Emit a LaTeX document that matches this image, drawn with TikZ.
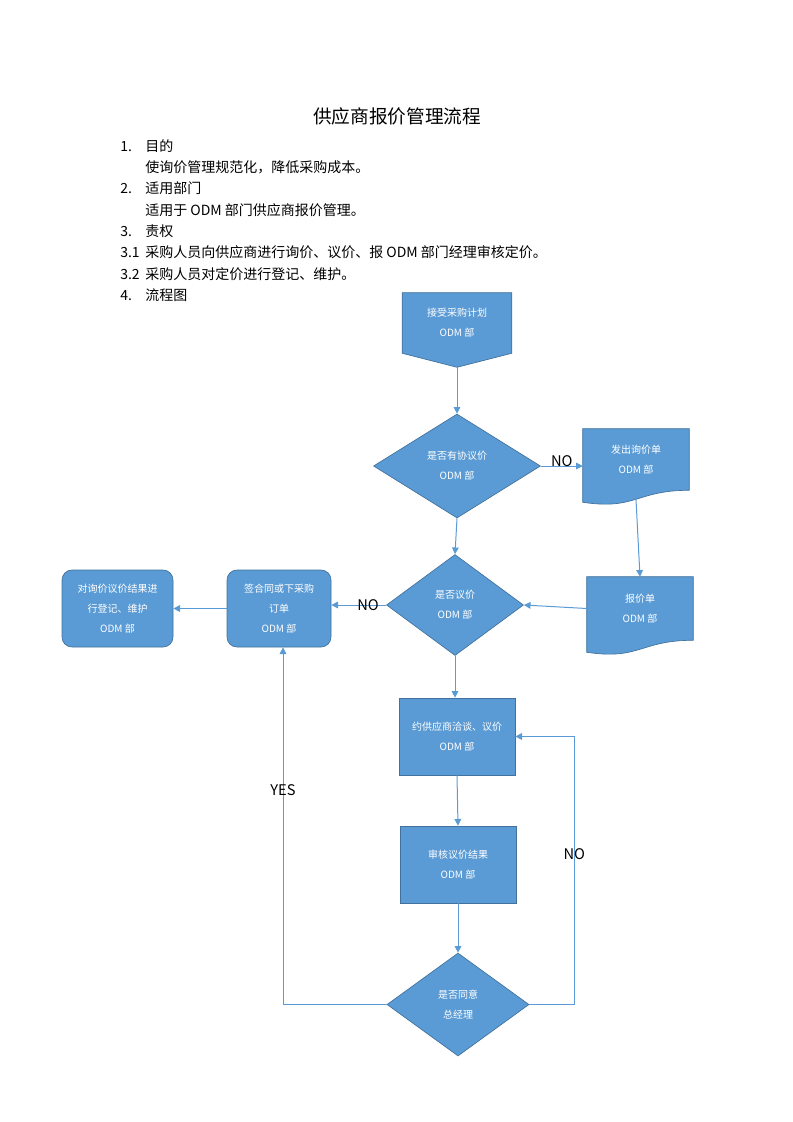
\documentclass[tikz,border=0pt]{standalone}
\usepackage{fontspec}
\setmainfont{Noto Sans CJK SC}
\usepackage{tikz}
\usetikzlibrary{shapes.geometric,arrows.meta,backgrounds}

\definecolor{boxblue}{HTML}{5B9BD5}
\definecolor{boxedge}{HTML}{41719C}
\newcommand{\pxu}{0.75pt}
\newcommand{\nodefont}{\fontsize{7.5}{15}\selectfont}

\begin{document}
\begin{tikzpicture}[x=0.75pt,y=-0.75pt]
            \tikzstyle{proc}=[rectangle,fill=boxblue,draw=boxedge,line width=0.5pt,text=white,font=\nodefont,align=center,inner sep=0pt]
            \tikzstyle{roundproc}=[proc,rounded corners=7.5pt]
            \tikzstyle{decide}=[proc,diamond]
            \tikzstyle{shapetext}=[text=white,font=\nodefont,align=center,inner sep=0pt]
            \tikzstyle{flow}=[draw=boxblue,line width=0.75pt,-{Triangle[length=5pt,width=5pt]}]
            \tikzstyle{tag}=[font=\fontsize{11}{13}\selectfont,inner sep=0pt]
            \useasboundingbox (0,0) rectangle (793,1122);

            \node (title) at (397,116) {\fontsize{14}{17}\selectfont 供应商报价管理流程};
            \node[anchor=base west,inner sep=0pt,font=\fontsize{10.5}{16}\selectfont] (intro) at (120,151) {%
                \begin{tabular}[t]{@{}p{18.75pt}@{}l@{}}
                1. & 目的\\
                   & 使询价管理规范化，降低采购成本。\\
                2. & 适用部门\\
                   & 适用于 ODM 部门供应商报价管理。\\
                3. & 责权\\
                3.1 & 采购人员向供应商进行询价、议价、报 ODM 部门经理审核定价。\\
                3.2 & 采购人员对定价进行登记、维护。\\
                4. & 流程图
                \end{tabular}};

            % flow chart
            \node[shapetext,minimum width=109*\pxu,minimum height=60*\pxu] (plan) at (457,323) {接受采购计划\\ODM 部};
            \node[decide,minimum width=167*\pxu,minimum height=104*\pxu] (ask) at (457,466) {是否有协议价\\ODM 部};
            \node[shapetext,minimum width=106*\pxu,minimum height=61*\pxu] (inq) at (636,459.5) {发出询价单\\ODM 部};
            \node[shapetext,minimum width=106*\pxu,minimum height=63*\pxu] (bid) at (640,608.5) {报价单\\ODM 部};
            \node[decide,minimum width=137*\pxu,minimum height=101*\pxu] (check) at (455,605) {是否议价\\ODM 部};
            \node[roundproc,minimum width=104*\pxu,minimum height=77*\pxu] (sign) at (279,608.5) {签合同或下采购\\订单\\ODM 部};
            \node[roundproc,minimum width=111*\pxu,minimum height=77*\pxu] (record) at (117.5,608.5) {对询价议价结果进\\行登记、维护\\ODM 部};
            \node[proc,minimum width=116*\pxu,minimum height=77*\pxu] (nego) at (457,736.5) {约供应商洽谈、议价\\ODM 部};
            \node[proc,minimum width=116*\pxu,minimum height=77*\pxu] (audit) at (458,864.5) {审核议价结果\\ODM 部};
            \node[decide,minimum width=142*\pxu,minimum height=103*\pxu] (agree) at (458,1004.5) {是否同意\\总经理};

            \begin{scope}[on background layer]
                \filldraw[fill=boxblue,draw=boxedge,line width=0.5pt] (plan.north west) -- (plan.north east) -- (plan.south east)
                    -- ([yshift=-10.5pt]plan.south) -- (plan.south west) -- cycle;
                \filldraw[fill=boxblue,draw=boxedge,line width=0.5pt] (inq.north west) -- (inq.north east) -- (inq.south east)
                    .. controls (inq.south) and ([yshift=-15pt]inq.south) .. ([yshift=-9pt]inq.south west) -- cycle;
                \filldraw[fill=boxblue,draw=boxedge,line width=0.5pt] (bid.north west) -- (bid.north east) -- (bid.south east)
                    .. controls (bid.south) and ([yshift=-15pt]bid.south) .. ([yshift=-9pt]bid.south west) -- cycle;
            \end{scope}

            \draw[flow] ([yshift=-10.5pt]plan.south) -- (ask.north);
            \draw[flow] (ask.east) -- node[tag,anchor=base] {NO} (ask.east -| inq.west);
            \draw[flow] ([yshift=-7pt]inq.south) -- (bid.north);
            \draw[flow] (ask.south) -- (check.north);
            \draw[flow] (bid.west) -- (check.east);
            \draw[flow] (check.west) -- node[tag,pos=0.33] {NO} (check.west -| sign.east);
            \draw[flow] (sign.west) -- (sign.west -| record.east);
            \draw[flow] (check.south) -- (check.south |- nego.north);
            \draw[flow] (nego.south) -- (audit.north);
            \draw[flow] (audit.south) -- (agree.north);
            \draw[flow] (agree.west) -| node[tag,pos=0.8] {YES} ([xshift=3pt]sign.south);
            \draw[flow] (agree.east) -- ++(45,0) |- node[tag,pos=0.28] {NO} (nego.east);
        \end{tikzpicture}
\end{document}
